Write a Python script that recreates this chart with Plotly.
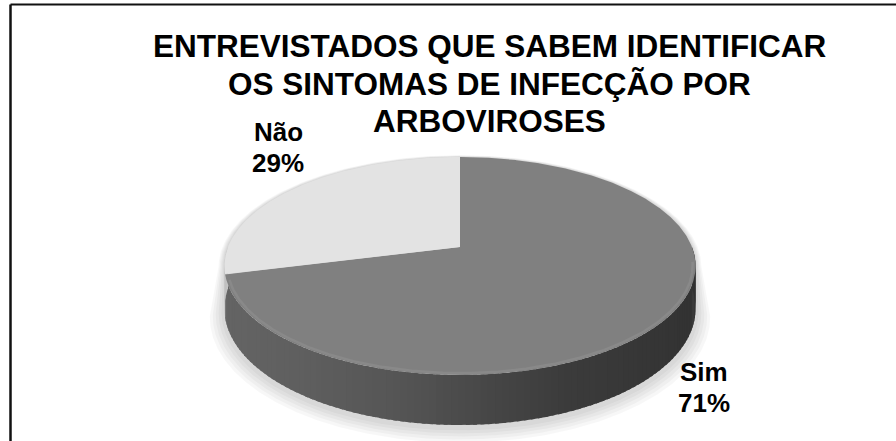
import numpy as np
import plotly.graph_objects as go

# ---- data ----
labels = ["Sim", "Não"]
values = [71, 29]
title_lines = [
    "ENTREVISTADOS QUE SABEM IDENTIFICAR",
    "OS SINTOMAS DE INFECÇÃO POR",
    "ARBOVIROSES",
]

# ---- styling ----
W, H = 896, 441
top_colors = {"Sim": "#808080", "Não": "#e3e3e3"}
side_levels_sim = ([225, 300, 400, 470, 560, 700], [100, 95, 85, 74, 60, 50])
side_level_nao = 196
FONT = "Liberation Sans, Arial, sans-serif"

# perspective disc geometry (pixel space)
CX, CY = 460, 247      # apex of the pie
RX, RY = 232, 105.7    # radii before perspective
PERSP = 0.174          # far side compression
DEPTH = 41.3           # thickness of the disc


def proj(theta_deg, r=1.0, z=0.0):
    t = np.radians(np.asarray(theta_deg, dtype=float))
    u, v = r * np.cos(t), r * np.sin(t)
    s = 1.0 / (1.0 + PERSP * v)
    return CX + RX * u * s, CY - RY * v * s + z * s


def arc(a0, a1, r=1.0, z=0.0, step=0.5):
    n = max(2, int(abs(a1 - a0) / step) + 1)
    return proj(np.linspace(a0, a1, n), r, z)


fig = go.Figure()


def poly(xs, ys, color, line_color=None, lw=0.0):
    fig.add_trace(go.Scatter(
        x=list(xs), y=list(ys), mode="lines", fill="toself",
        fillcolor=color, line=dict(color=line_color or color, width=lw),
        hoverinfo="skip", showlegend=False,
    ))


# slice angles: first slice starts at 12 o'clock, running clockwise
total = float(sum(values))
slices = []
start = 90.0
for lab, val in zip(labels, values):
    sweep = val / total * 360.0
    slices.append((lab, val, start - sweep, start))
    start -= sweep

# soft shadow around the disc silhouette
for e in [0.06, 0.048, 0.036, 0.024, 0.012]:
    tx, ty = arc(-10, 190, 1 + e * 0.4, 0)
    bx, by = arc(190, 350, 1 + e, DEPTH + 2 + e * 70)
    poly(np.r_[tx, bx], np.r_[ty, by], "rgba(0,0,0,0.03)")

# side wall (front half), drawn in narrow overlapping strips for shading
for lab, val, lo, hi in slices:
    a_lo, a_hi = max(lo, -180.0), min(hi, 0.0)
    if a_hi <= a_lo:
        continue
    edges = np.linspace(a_lo, a_hi, max(2, int((a_hi - a_lo) / 1.5) + 1))
    for i, (a0, a1) in enumerate(zip(edges[:-1], edges[1:])):
        a1x = min(a1 + 0.8, a_hi) if i < len(edges) - 2 else a1
        tx, ty = arc(a0, a1x, 1, 0, 0.25)
        bx, by = arc(a1x, a0, 1, DEPTH, 0.25)
        xm = float(np.mean(tx))
        if lab == "Sim":
            lvl = int(round(np.interp(xm, *side_levels_sim)))
        else:
            lvl = side_level_nao
        poly(np.r_[tx, bx], np.r_[ty, by], f"rgb({lvl},{lvl},{lvl})")

# top faces
for lab, val, lo, hi in slices:
    ax, ay = arc(hi, lo, 1, 0, 0.25)
    poly(np.r_[CX, ax, CX], np.r_[CY, ay, CY], top_colors[lab])

# bevel highlight along the front rim of the top face
for lab, val, lo, hi in slices:
    a_lo, a_hi = max(lo, -180.0), min(hi, -8.0)
    if a_hi <= a_lo or lab != "Sim":
        continue
    hx, hy = arc(a_lo + 3, a_hi, 0.988, 0, 0.5)
    fig.add_trace(go.Scatter(x=hx, y=hy, mode="lines",
                             line=dict(color="#898989", width=2.5),
                             hoverinfo="skip", showlegend=False))

# ---- text ----
annotations = []
for line, yc in zip(title_lines, [46, 84, 121]):
    annotations.append(dict(
        x=489, y=yc, xref="x", yref="y", text=line, showarrow=False,
        xanchor="center", yanchor="middle",
        font=dict(family=FONT, size=31.5, color="#000000", weight="bold"),
    ))

label_pos = {"Não": (278, 131, 162), "Sim": (704, 371, 402)}
for lab, val in zip(labels, values):
    x0, y1, y2 = label_pos[lab]
    pct = f"{round(val / total * 100)}%"
    for txt, yc in ((lab, y1), (pct, y2)):
        annotations.append(dict(
            x=x0, y=yc + 1, xref="x", yref="y", text=txt, showarrow=False,
            xanchor="center", yanchor="middle",
            font=dict(family=FONT, size=26, color="#000000", weight="bold"),
        ))

# chart frame (top and left edges)
shapes = [
    dict(type="line", xref="x", yref="y", x0=10.5, y0=4.5, x1=896, y1=4.5,
         line=dict(color="#111111", width=2)),
    dict(type="line", xref="x", yref="y", x0=10.5, y0=4.5, x1=10.5, y1=441,
         line=dict(color="#111111", width=2.5)),
]

fig.update_layout(
    width=W, height=H, autosize=False,
    margin=dict(l=0, r=0, t=0, b=0, pad=0),
    paper_bgcolor="white", plot_bgcolor="white",
    xaxis=dict(range=[0, W], visible=False, fixedrange=True),
    yaxis=dict(range=[H, 0], visible=False, fixedrange=True),
    annotations=annotations, shapes=shapes, showlegend=False,
)

fig.write_html("out.html", config={"displayModeBar": False})
